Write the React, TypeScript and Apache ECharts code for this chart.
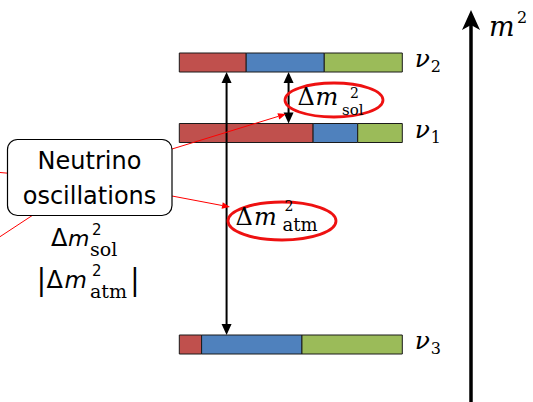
import { useEffect, useRef } from "react";
import * as echarts from "echarts";

// Mass eigenstates, listed from the top level down
const stateIndexLabels = ["2", "1", "3"];
const massSquaredLevels = [4, 3, 0]; // arbitrary units, normal ordering

// Flavour content of each eigenstate (e, μ, τ), fractions of the bar
const flavourNames = ["e", "mu", "tau"];
const flavourColors = ["#c0504d", "#4f81bd", "#9bbb59"];
const electronShare = [0.3, 0.6, 0.1];
const muonShare = [0.35, 0.2, 0.45];
const tauShare = [0.35, 0.2, 0.45];

// Mass splittings drawn as double arrows between levels
const splittingNames = ["atm", "sol"];
const splittingLower = [0, 3];
const splittingUpper = [4, 4];
const splittingAt = [0.212, 0.49];

const BAR_H = 19;
const RED = "#ff0000";
const ELLIPSE_RED = "#ee1111";
const SERIF = "DejaVu Serif";
const SANS = "DejaVu Sans";

type Seg = [number, number, number, number];

function buildSegments(): Seg[] {
  const shares = [electronShare, muonShare, tauShare];
  const out: Seg[] = [];
  massSquaredLevels.forEach((lvl, i) => {
    let acc = 0;
    shares.forEach((s, f) => {
      out.push([acc, acc + s[i], lvl, f]);
      acc += s[i];
    });
  });
  return out;
}

// text placed by its baseline
function glyph(
  text: string,
  x: number,
  baseline: number,
  size: number,
  family: string,
  opts: { italic?: boolean; align?: string } = {}
) {
  return {
    type: "text",
    z: 20,
    style: {
      text,
      x,
      y: baseline - 0.34 * size,
      fill: "#000",
      fontSize: size,
      fontFamily: family,
      fontStyle: opts.italic ? "italic" : "normal",
      align: opts.align || "left",
      verticalAlign: "middle",
    },
  };
}

function redArrow(x1: number, y1: number, x2: number, y2: number) {
  const dx = x2 - x1;
  const dy = y2 - y1;
  const len = Math.hypot(dx, dy);
  const ux = dx / len;
  const uy = dy / len;
  const hl = 8;
  const hw = 3.2;
  const bx = x2 - ux * hl;
  const by = y2 - uy * hl;
  return [
    {
      type: "line",
      z: 10,
      shape: { x1, y1, x2: bx, y2: by },
      style: { stroke: RED, lineWidth: 1 },
    },
    {
      type: "polygon",
      z: 10,
      shape: {
        points: [
          [x2, y2],
          [bx - uy * hw, by + ux * hw],
          [bx + uy * hw, by - ux * hw],
        ],
      },
      style: { fill: RED },
    },
  ];
}

function buildOption() {
  const segments = buildSegments();
  const arrows = splittingNames.map((_, i) => [
    splittingAt[i],
    splittingLower[i],
    splittingUpper[i],
  ]);
  const labels = massSquaredLevels.map((lvl) => [1, lvl]);

  const graphic: any[] = [
    // annotation leader lines
    {
      type: "line",
      z: 10,
      shape: { x1: 0, y1: 172.5, x2: 8, y2: 173.2 },
      style: { stroke: RED, lineWidth: 1 },
    },
    {
      type: "line",
      z: 10,
      shape: { x1: 0, y1: 236.7, x2: 33, y2: 215 },
      style: { stroke: RED, lineWidth: 1 },
    },
    ...redArrow(172, 149, 286, 114),
    ...redArrow(172, 196, 230, 207),
    // callout box
    {
      type: "rect",
      z: 12,
      shape: { x: 7.5, y: 139.5, width: 164.5, height: 76, r: 10 },
      style: { fill: "#fff", stroke: "#000", lineWidth: 1.2 },
    },
    glyph("Neutrino", 89.5, 169, 24, SANS, { align: "center" }),
    glyph("oscillations", 89.5, 204, 24, SANS, { align: "center" }),
    // Δm²_sol
    glyph("Δ", 51, 246, 24, SANS),
    glyph("m", 68, 246, 22, SANS, { italic: true }),
    glyph("2", 92, 235, 15, SANS),
    glyph("sol", 90, 255.5, 19, SERIF),
    // |Δm²_atm|
    glyph("|", 41.5, 290, 29, SERIF, { align: "center" }),
    glyph("Δ", 46.5, 288, 24, SANS),
    glyph("m", 64.5, 288, 23, SANS, { italic: true }),
    glyph("2", 92, 276.5, 15, SANS),
    glyph("atm", 90, 297, 19, SERIF),
    glyph("|", 135, 290, 29, SERIF, { align: "center" }),
    // ellipse labels on the splittings
    {
      type: "ellipse",
      z: 15,
      shape: { cx: 334, cy: 100, rx: 49, ry: 17 },
      style: { fill: "none", stroke: ELLIPSE_RED, lineWidth: 2.8 },
    },
    glyph("Δ", 297.5, 105, 24, SERIF),
    glyph("m", 315.5, 105, 24, SERIF, { italic: true }),
    glyph("2", 350, 97.5, 14, SERIF),
    glyph("sol", 342, 115, 15, SERIF),
    {
      type: "ellipse",
      z: 15,
      shape: { cx: 282, cy: 221, rx: 54, ry: 19 },
      style: { fill: "none", stroke: ELLIPSE_RED, lineWidth: 2.8 },
    },
    glyph("Δ", 235.5, 225, 24, SERIF),
    glyph("m", 254, 225, 24, SERIF, { italic: true }),
    glyph("2", 284.5, 210.5, 14, SERIF),
    glyph("atm", 282.5, 230.5, 18, SERIF),
    // m² axis
    {
      type: "line",
      z: 10,
      shape: { x1: 471, y1: 402, x2: 471, y2: 24 },
      style: { stroke: "#000", lineWidth: 3.5 },
    },
    {
      type: "polygon",
      z: 10,
      shape: {
        points: [
          [471, 10],
          [480, 30],
          [471, 25],
          [462, 30],
        ],
      },
      style: { fill: "#000" },
    },
    glyph("m", 489, 36, 27, SERIF, { italic: true }),
    glyph("2", 517, 23, 16, SERIF),
  ];

  return {
    animation: false,
    backgroundColor: "#fff",
    grid: { left: 179.3, right: 533 - 402.3, top: 62.5, bottom: 402 - 344.5 },
    xAxis: { type: "value", min: 0, max: 1, show: false },
    yAxis: { type: "value", min: 0, max: 4, show: false },
    series: [
      {
        type: "custom",
        name: "flavour content",
        encode: { x: [0, 1], y: 2 },
        data: segments,
        renderItem: (_p: any, api: any) => {
          const lvl = api.value(2);
          const a = api.coord([api.value(0), lvl]);
          const b = api.coord([api.value(1), lvl]);
          return {
            type: "rect",
            shape: { x: a[0], y: a[1] - BAR_H / 2, width: b[0] - a[0], height: BAR_H },
            style: {
              fill: flavourColors[api.value(3)],
              stroke: "#1a1a1a",
              lineWidth: 1,
            },
          };
        },
      },
      {
        type: "custom",
        name: "splittings",
        encode: { x: 0, y: [1, 2] },
        data: arrows,
        renderItem: (_p: any, api: any) => {
          const at = api.value(0);
          const p = api.coord([at, api.value(1)]);
          const q = api.coord([at, api.value(2)]);
          const x = p[0];
          const yb = p[1] - BAR_H / 2;
          const yt = q[1] + BAR_H / 2;
          const hl = 11;
          const hw = 5;
          return {
            type: "group",
            children: [
              {
                type: "line",
                shape: { x1: x, y1: yb - 4, x2: x, y2: yt + 4 },
                style: { stroke: "#000", lineWidth: 2 },
              },
              {
                type: "polygon",
                shape: { points: [[x, yt], [x - hw, yt + hl], [x + hw, yt + hl]] },
                style: { fill: "#000" },
              },
              {
                type: "polygon",
                shape: { points: [[x, yb], [x - hw, yb - hl], [x + hw, yb - hl]] },
                style: { fill: "#000" },
              },
            ],
          };
        },
      },
      {
        type: "custom",
        name: "states",
        encode: { x: 0, y: 1 },
        data: labels,
        renderItem: (p: any, api: any) => {
          const c = api.coord([api.value(0), api.value(1)]);
          const sub = stateIndexLabels[p.dataIndex];
          const size = 25;
          const subSize = 16;
          return {
            type: "group",
            children: [
              {
                type: "text",
                style: {
                  text: "ν",
                  x: c[0] + 12.5,
                  y: c[1] + 4.5 - 0.34 * size,
                  fontSize: size,
                  fontFamily: SERIF,
                  fontStyle: "italic",
                  fill: "#000",
                  align: "left",
                  verticalAlign: "middle",
                },
              },
              {
                type: "text",
                style: {
                  text: sub,
                  x: c[0] + 28.5,
                  y: c[1] + 9.5 - 0.34 * subSize,
                  fontSize: subSize,
                  fontFamily: SERIF,
                  fill: "#000",
                  align: "left",
                  verticalAlign: "middle",
                },
              },
            ],
          };
        },
      },
    ],
    graphic,
  };
}

export default function App() {
  const ref = useRef<HTMLDivElement>(null);
  useEffect(() => {
    if (!ref.current) return;
    const chart = echarts.init(ref.current, undefined, { renderer: "svg" });
    chart.setOption(buildOption() as any);
    return () => chart.dispose();
  }, []);
  return (
    <div
      ref={ref}
      style={{ position: "absolute", left: 0, top: 0, width: 533, height: 402 }}
    />
  );
}
